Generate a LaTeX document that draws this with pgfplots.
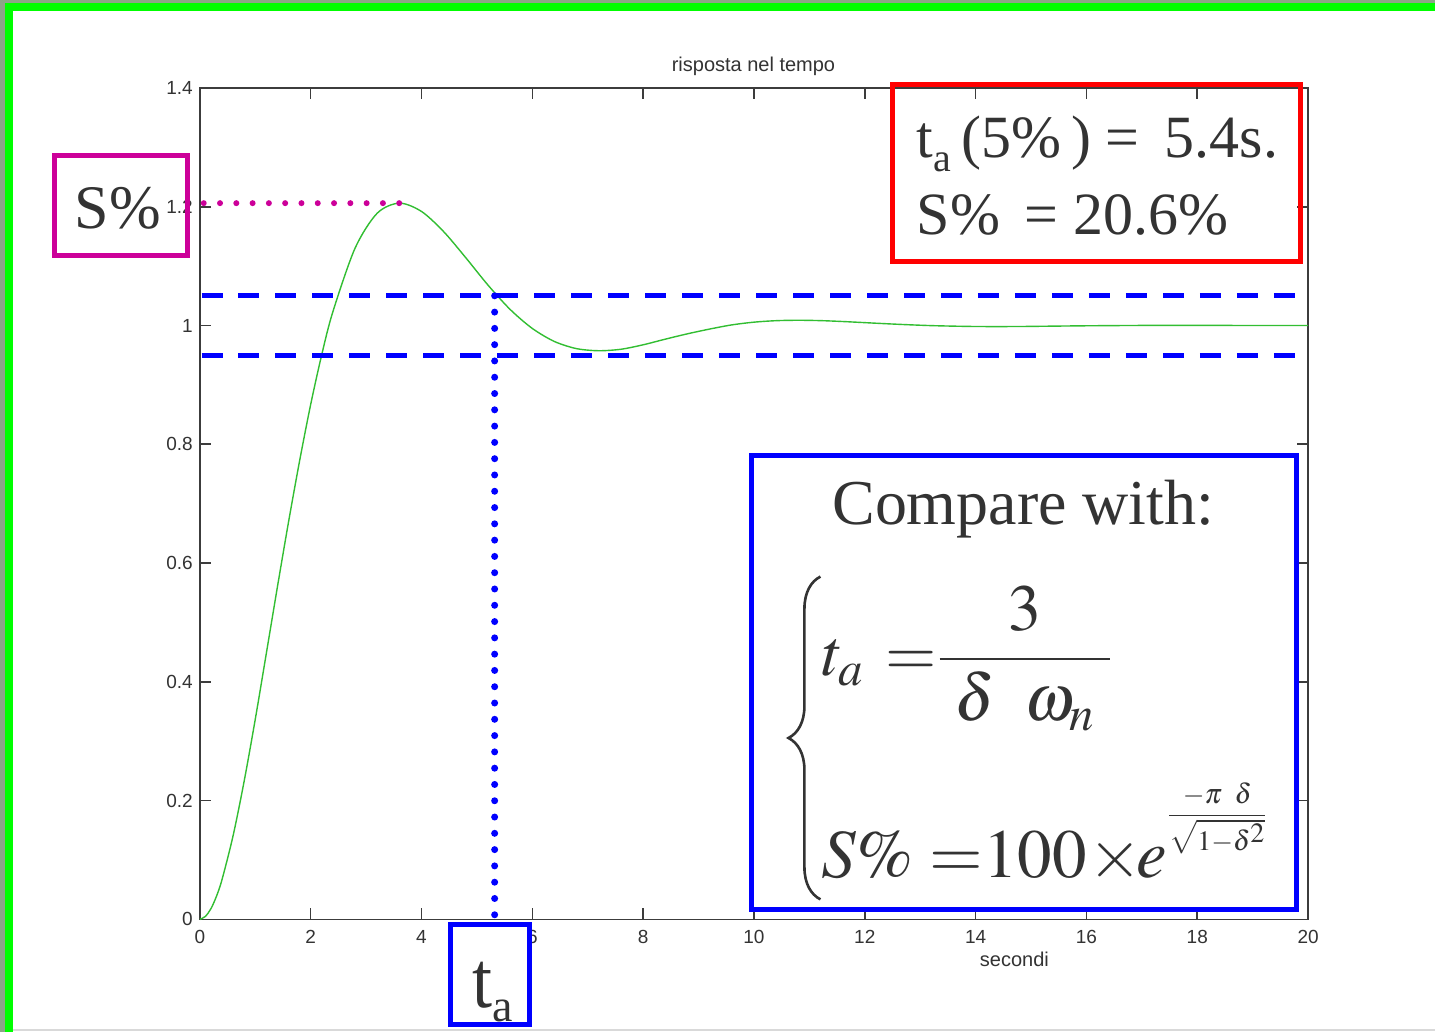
\documentclass[border=0pt]{standalone}
\usepackage{mathptmx}
\usepackage[no-math]{fontspec}
\setmainfont{Liberation Serif}
\newfontfamily\ticksf{Liberation Sans}
\usepackage{pgfplots}
\pgfplotsset{compat=1.18}
\usetikzlibrary{decorations.pathreplacing}

\definecolor{curvegreen}{RGB}{50,190,50}
\definecolor{framegreen}{RGB}{0,255,0}
\definecolor{mag}{RGB}{204,0,153}
\definecolor{axgrey}{RGB}{60,60,60}
\definecolor{txt}{RGB}{51,51,51}
\definecolor{pureblue}{RGB}{0,0,255}
\definecolor{purered}{RGB}{255,0,0}
\definecolor{bgstrip}{RGB}{140,165,135}

\newcommand{\tickfont}{\ticksf\fontsize{9.5}{11}\selectfont}
\newcommand{\labelfont}{\ticksf\fontsize{10}{12}\selectfont}

\begin{document}
\begin{tikzpicture}
% slide canvas: 1 unit = 0.5pt, origin at the top left corner
\begin{scope}[x=0.5pt,y=-0.5pt]
  \fill[white] (0,0) rectangle (1436,1033);
  \fill[bgstrip] (0,0) rectangle (1436,3);
  \fill[bgstrip] (0,0) rectangle (5,1033);
  \fill[framegreen] (5,3) rectangle (1436,11);
  \fill[framegreen] (5,3) rectangle (13,1033);
  \draw[black!15, line width=1pt] (13,1031) -- (1436,1031);
  \path[use as bounding box] (0,0) rectangle (1436,1033);
\end{scope}

\begin{axis}[
  at={(100pt,-460pt)}, anchor=south west,
  scale only axis, width=554.5pt, height=416pt,
  xmin=0, xmax=20, ymin=0, ymax=1.4,
  xtick={0,2,4,6,8,10,12,14,16,18,20},
  ytick={0,0.2,0.4,0.6,0.8,1,1.2,1.4},
  tick align=inside, tick pos=both,
  major tick length=5.5pt,
  axis line style={axgrey, line width=0.8pt},
  major tick style={axgrey, line width=0.8pt},
  ticklabel style={font=\tickfont, text=txt},
  /pgf/number format/assume math mode=true,
  yticklabel style={/pgf/number format/fixed, /pgf/number format/precision=1},
  xticklabel style={yshift=-2pt},
  xlabel={secondi},
  xlabel style={font=\labelfont, text=txt, at={(axis description cs:0.735,0)}, anchor=base, yshift=-23.5pt},
  clip=false,
]
% step response
\addplot[curvegreen, line width=0.7pt, smooth] coordinates {
 (0,0) (0.1,0.005) (0.2,0.018) (0.3,0.039) (0.4,0.067) (0.6,0.141)
 (0.8,0.233) (1.0,0.337) (1.2,0.448) (1.4,0.560) (1.6,0.669) (1.8,0.772)
 (2.0,0.867) (2.2,0.951) (2.4,1.023) (2.8,1.130) (3.2,1.189) (3.6,1.206)
 (4.0,1.192) (4.4,1.158) (4.8,1.114) (5.2,1.068) (5.6,1.027) (6.0,0.995)
 (6.4,0.973) (6.8,0.961) (7.2,0.9575) (7.6,0.960) (8.0,0.9675) (8.4,0.977)
 (8.8,0.986) (9.2,0.994) (9.6,1.001) (10.0,1.0056) (10.4,1.0081)
 (10.8,1.0088) (11.2,1.0082) (11.6,1.0067) (12.0,1.0048) (12.4,1.0029)
 (12.8,1.0012) (13.2,0.9998) (13.6,0.9989) (14.0,0.9983) (14.4,0.9982)
 (14.8,0.9983) (15.2,0.9987) (16.0,0.9995) (17.0,1.0001) (18.0,1.0002)
 (19.0,1.0000) (20.0,1.0000)
};
% 5% band
\addplot[pureblue, line width=2.5pt, dash pattern=on 10.5pt off 8pt] coordinates {(0.03,1.05) (19.77,1.05)};
\addplot[pureblue, line width=2.5pt, dash pattern=on 10.5pt off 8pt] coordinates {(0.03,0.95) (19.77,0.95)};
% settling time marker
\addplot[pureblue, line width=3.5pt, line cap=round, dash pattern=on 0pt off 8.15pt] coordinates {(5.32,1.05) (5.32,-0.006)};
% overshoot marker
\addplot[mag, line width=3pt, line cap=round, dash pattern=on 0pt off 8.15pt] coordinates {(0.07,1.206) (3.6,1.206)};
\end{axis}

\begin{scope}[x=0.5pt,y=-0.5pt]
  \node[anchor=base, text=txt, font=\labelfont] at (754,72) {risposta nel tempo};
  % overshoot label
  \draw[mag, line width=2.5pt] (54.5,155.5) rectangle (187.5,255.5);
  \node[anchor=base, text=txt, font=\fontsize{31}{36}\selectfont] at (118,229) {S\%};
  % measured values
  \draw[purered, line width=2.5pt] (893.5,84.5) rectangle (1301.5,261.5);
  \node[anchor=base west, inner sep=0, text=txt, font=\fontsize{30}{36}\selectfont] at (917,158)
    {t\raisebox{-7pt}{\fontsize{20}{20}\selectfont a}\,(5\%\,) = \,5.4s.};
  \node[anchor=base west, inner sep=0, text=txt, font=\fontsize{30}{36}\selectfont] at (917,235)
    {S\%\ \,= 20.6\%};
  % formulas
  \draw[pureblue, line width=2.5pt] (752.5,455.5) rectangle (1297.5,910.5);
  \node[anchor=base, text=txt, font=\fontsize{32}{38}\selectfont] at (1024,525) {Compare with:};
  \draw[txt, line width=1.3pt, decorate, decoration={brace, amplitude=16pt}] (821,900) -- (821,577);
  \node[anchor=base west, inner sep=0, text=txt, font=\fontsize{33}{40}\selectfont] at (822,676)
    {$\displaystyle t_a \,=\!\! \frac{3}{\;\delta\;\;\omega_n\;}$};
  \node[anchor=base west, inner sep=0, text=txt, font=\fontsize{34.5}{40}\selectfont] at (822,878)
    {$S\% = \!\!100\!\times\!\! e$\raisebox{27.5pt}{\fontsize{14}{16}\selectfont$\displaystyle\frac{-\pi\;\;\delta}{\sqrt{1\mathord{-}\delta^{\textstyle 2}}}$}};
  % settling time label
  \draw[pureblue, line width=2.5pt, fill=white] (450.5,925.5) rectangle (529.5,1025.5);
  \node[anchor=base west, inner sep=0, text=txt, font=\fontsize{36}{40}\selectfont] at (472,1008)
    {\scalebox{1}[1.12]{t}\raisebox{-7pt}{\fontsize{23}{24}\selectfont a}};
\end{scope}
\end{tikzpicture}
\end{document}
